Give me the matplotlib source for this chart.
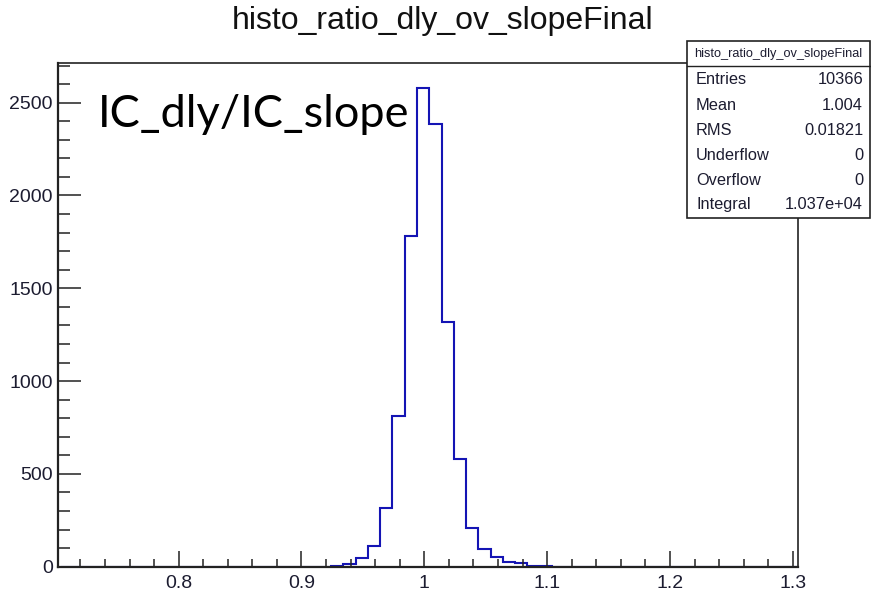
import numpy as np
import matplotlib.pyplot as plt
from matplotlib.patches import Rectangle
from matplotlib.ticker import MultipleLocator

# histogram contents: 60 bins of width 0.01 starting at 0.704
x_low = 0.704
bin_width = 0.01
n_bins = 60
first_filled = 22  # bin starting at 0.924
filled = [5, 15, 45, 113, 315, 812, 1782, 2578, 2384, 1317,
          579, 210, 94, 54, 27, 18, 5, 3]

counts = np.zeros(n_bins)
counts[first_filled:first_filled + len(filled)] = filled
edges = x_low + bin_width * np.arange(n_bins + 1)

hist_name = "histo_ratio_dly_ov_slopeFinal"
stat_names = ["Entries", "Mean", "RMS", "Underflow", "Overflow", "Integral"]
stat_values = ["10366", "1.004", "0.01821", "0", "0", "1.037e+04"]

plt.rcParams['font.family'] = ['Liberation Sans', 'DejaVu Sans']

W, H = 871, 593
fig = plt.figure(figsize=(W / 100, H / 100), dpi=100)

def fx(px):
    return px / W

def fy(py):
    return 1 - py / H

ax = fig.add_axes([fx(58.3), fy(566.7), fx(797.7) - fx(58.3), fy(63.3) - fy(566.7)])
ax.stairs(counts, edges, color='#1414b4', linewidth=1.5)

ax.set_xlim(0.702, 1.304)
ax.set_ylim(0, 2712)

ax.xaxis.set_major_locator(MultipleLocator(0.1))
ax.xaxis.set_minor_locator(MultipleLocator(0.02))
ax.yaxis.set_major_locator(MultipleLocator(500))
ax.yaxis.set_minor_locator(MultipleLocator(100))
ax.set_xticks([0.8, 0.9, 1.0, 1.1, 1.2, 1.3])
ax.set_xticklabels(["0.8", "0.9", "1", "1.1", "1.2", "1.3"])

ax.tick_params(axis='both', which='both', direction='in', top=False, right=False,
               width=1.1, color='#222222', labelsize=14, labelcolor='#1c1c30')
ax.tick_params(axis='y', which='major', length=16.3, pad=4)
ax.tick_params(axis='y', which='minor', length=8.4)
ax.tick_params(axis='x', which='major', length=11.5, pad=6)
ax.tick_params(axis='x', which='minor', length=5.5)
for s in ax.spines.values():
    s.set_linewidth(1.2)
    s.set_color('#222222')
ax.spines['left'].set_linewidth(1.6)
ax.spines['bottom'].set_linewidth(1.6)

# title
fig.text(fx(443), fy(21), hist_name, ha='center', va='center', fontsize=23, color='#111111')

# annotation
fig.text(fx(98), fy(126.7), "IC_dly/IC_slope", family=['Lato', 'DejaVu Sans'],
         fontsize=32.5, ha='left', va='baseline', color='black')

# stats box
bx0, bx1, by0, by1 = 687, 870, 40.7, 217.7
fig.patches.append(Rectangle((fx(bx0), fy(by1)), fx(bx1) - fx(bx0), fy(by0) - fy(by1),
                             transform=fig.transFigure, facecolor='white',
                             edgecolor='#222222', linewidth=1.2, zorder=5))
fig.lines.append(plt.Line2D([fx(bx0), fx(bx1)], [fy(66), fy(66)], transform=fig.transFigure,
                            color='#222222', linewidth=1.0, zorder=6))
fig.text(fx((bx0 + bx1) / 2), fy(54), hist_name, ha='center', va='center',
         fontsize=9.2, color='#1c1c30', zorder=7)
row_y = [80, 105, 130.5, 155.5, 180.5, 205]
for name, val, ry in zip(stat_names, stat_values, row_y):
    fig.text(fx(696), fy(ry), name, ha='left', va='center', fontsize=11.8, color='#1c1c30', zorder=7)
    fig.text(fx(863), fy(ry), val, ha='right', va='center', fontsize=11.8, color='#1c1c30', zorder=7)

fig.savefig("out.png", dpi=100)
